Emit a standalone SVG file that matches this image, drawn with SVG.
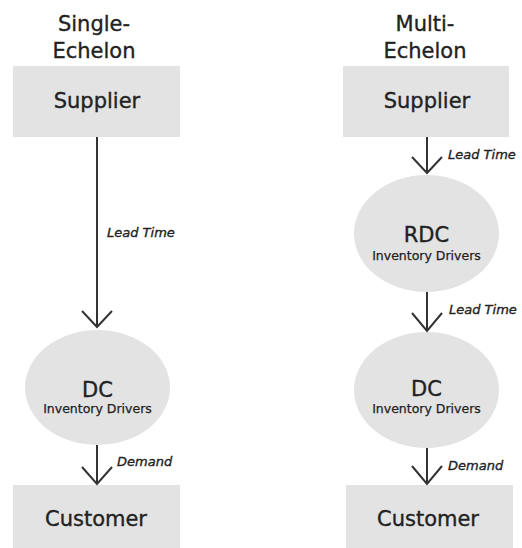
<svg xmlns="http://www.w3.org/2000/svg" width="522" height="548" viewBox="0 0 522 548">
<style>
.box{fill:#e3e3e3}
.t{font-family:"DejaVu Sans",sans-serif;fill:#222;stroke:#222;stroke-width:0.35;text-anchor:middle}
.title{font-size:21px}
.big{font-size:21px}
.sub{font-size:12.5px;stroke-width:0.25}
.lbl{font-family:"DejaVu Sans",sans-serif;font-style:italic;font-size:13px;fill:#222;stroke:#222;stroke-width:0.35}
.ln{stroke:#333;stroke-width:2;fill:none}
</style>
<rect width="522" height="548" fill="#fff"/>
<text class="t title" x="94" y="31">Single-</text>
<text class="t title" x="94" y="58">Echelon</text>
<text class="t title" x="425" y="31">Multi-</text>
<text class="t title" x="425" y="58">Echelon</text>
<g id="supplier-left"><rect class="box" x="13" y="66" width="167" height="71"/><text class="t big" x="97" y="108">Supplier</text></g>
<g id="dc-left"><ellipse class="box" cx="97.5" cy="387.5" rx="72.5" ry="57.5"/><text class="t big" x="97.5" y="397">DC</text><text class="t sub" x="97.5" y="413">Inventory Drivers</text></g>
<g id="customer-left"><rect class="box" x="13" y="485" width="167" height="63"/><text class="t big" x="96" y="526">Customer</text></g>
<g id="supplier-right"><rect class="box" x="343" y="66" width="166" height="71"/><text class="t big" x="427" y="108">Supplier</text></g>
<g id="rdc"><ellipse class="box" cx="426.5" cy="233.5" rx="72.5" ry="58.5"/><text class="t big" x="426.5" y="242">RDC</text><text class="t sub" x="426.5" y="260">Inventory Drivers</text></g>
<g id="dc-right"><ellipse class="box" cx="426.5" cy="390" rx="72.5" ry="58"/><text class="t big" x="426.5" y="396">DC</text><text class="t sub" x="426.5" y="413">Inventory Drivers</text></g>
<g id="customer-right"><rect class="box" x="346" y="485" width="167" height="63"/><text class="t big" x="428" y="526">Customer</text></g>
<g id="connectors">
<path class="ln" d="M97 137V327M82 311L97 327L112 311"/>
<text class="lbl" x="107" y="237">Lead Time</text>
<path class="ln" d="M97 445V484M82 467L97 484L112 467"/>
<text class="lbl" x="117" y="466">Demand</text>
<path class="ln" d="M427 137V173M412 157L427 173L442 157"/>
<text class="lbl" x="448" y="159">Lead Time</text>
<path class="ln" d="M427 292V331M412 313L427 331L442 313"/>
<text class="lbl" x="449" y="314">Lead Time</text>
<path class="ln" d="M427 448V484M412 466L427 484L442 466"/>
<text class="lbl" x="448" y="470">Demand</text>
</g>
</svg>
